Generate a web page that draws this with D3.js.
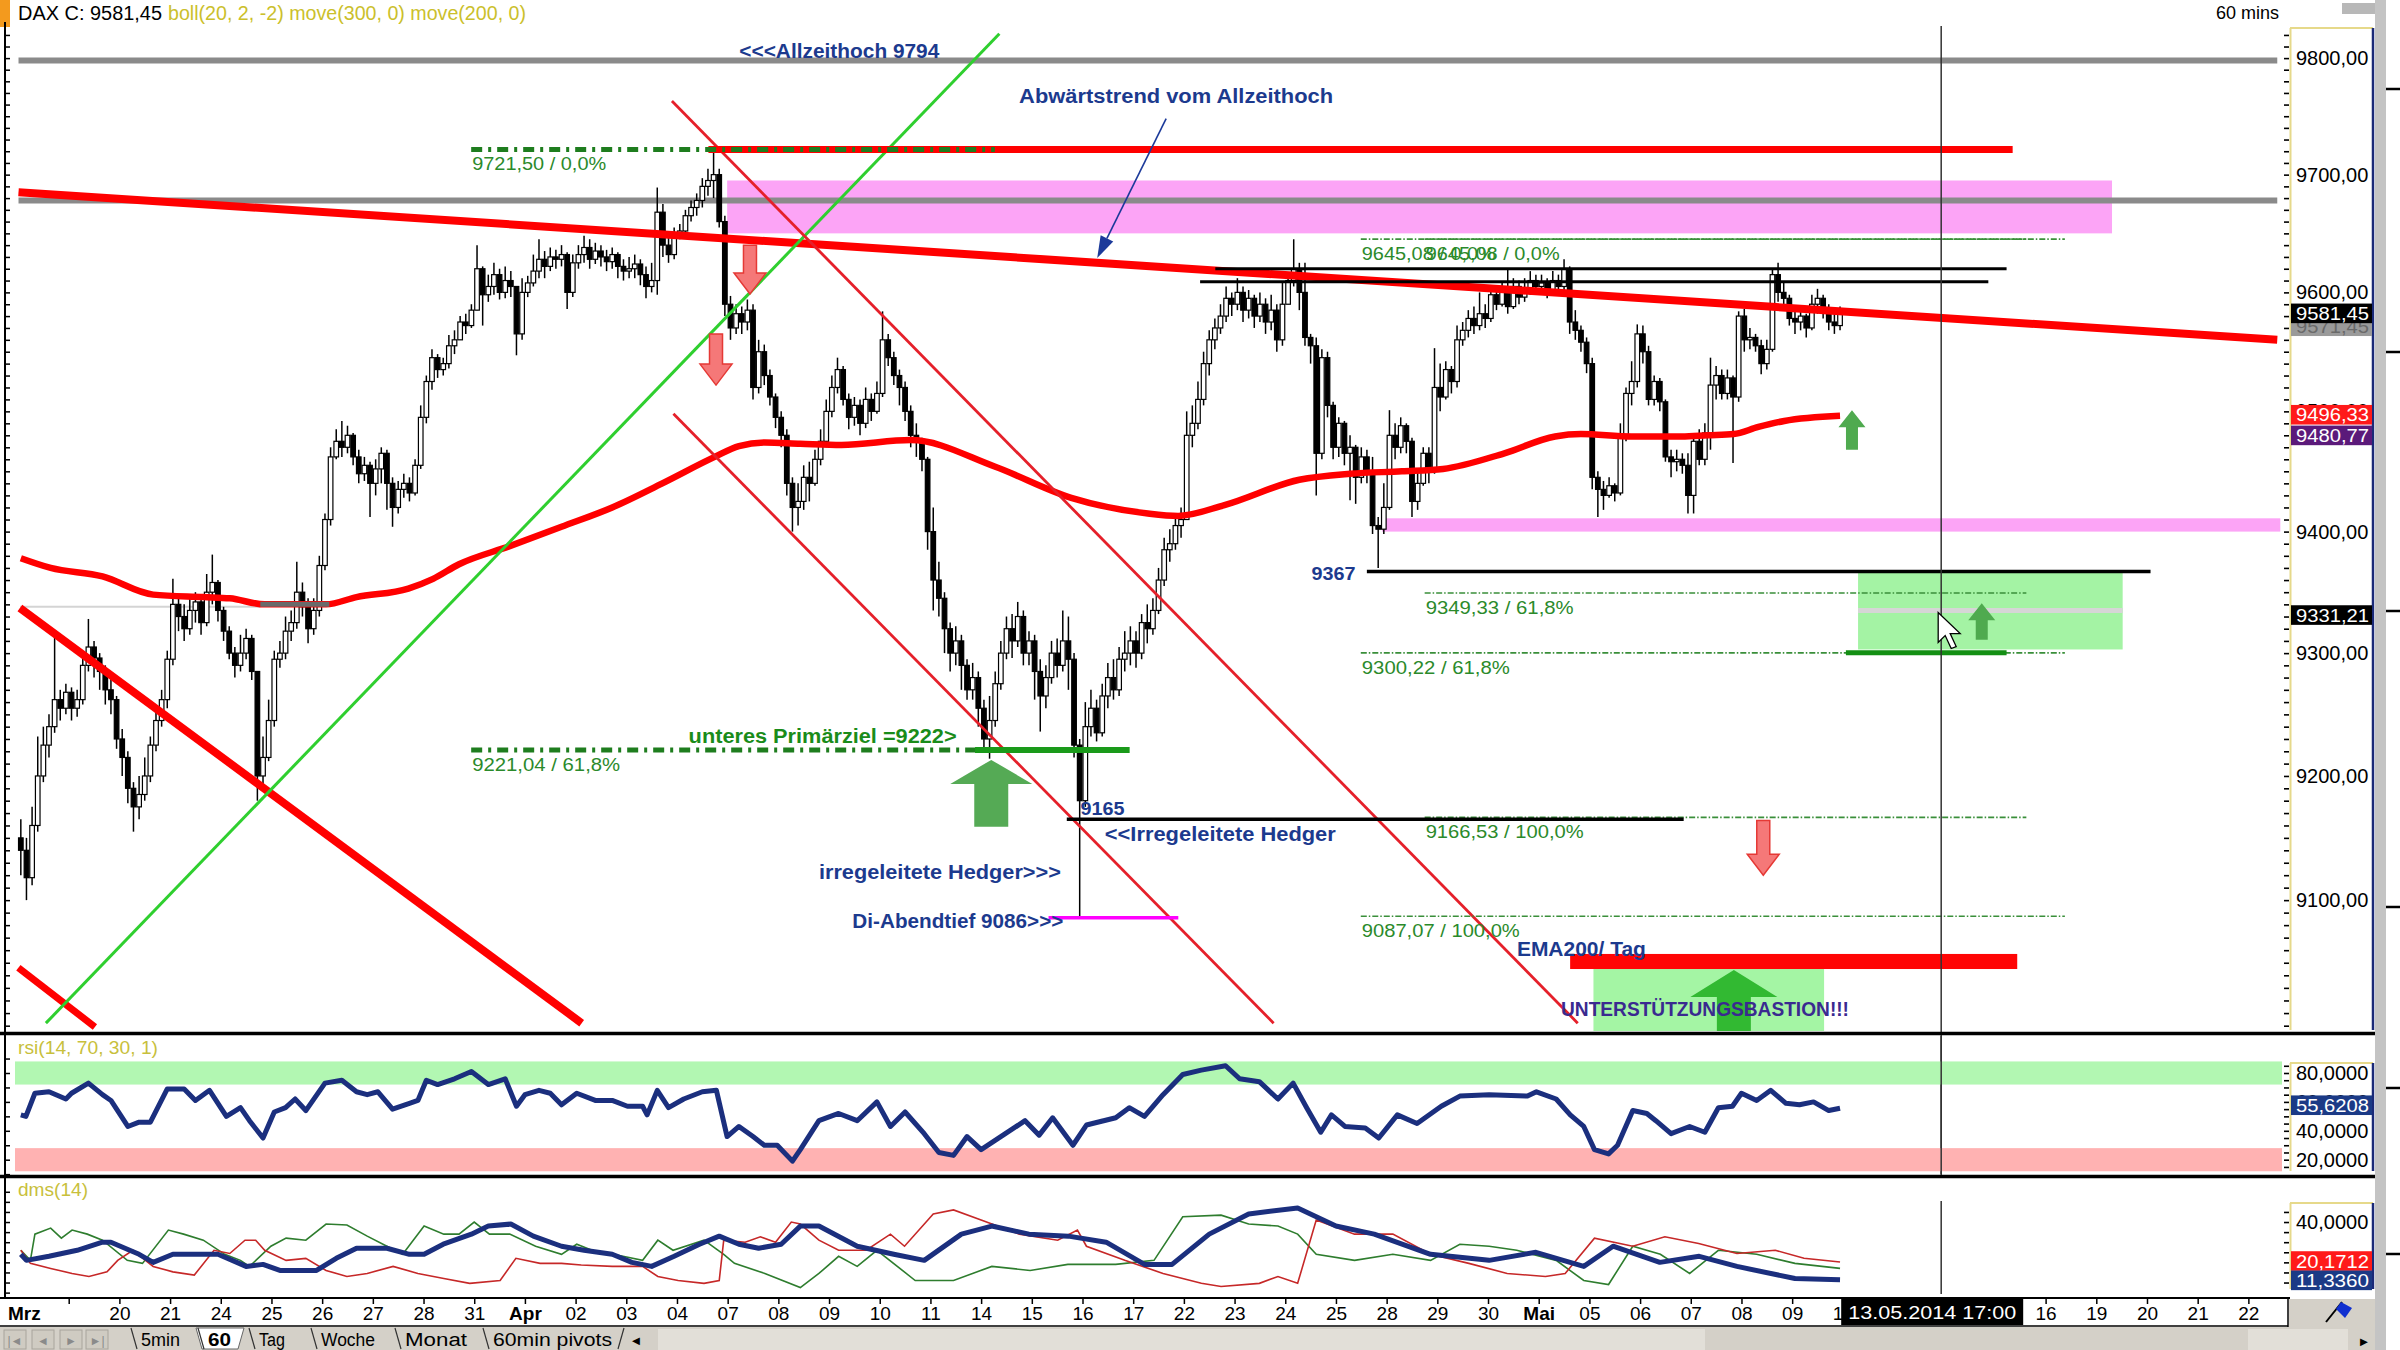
<!DOCTYPE html>
<html>
<head>
<meta charset="utf-8">
<script src="https://cdn.jsdelivr.net/npm/d3@7/dist/d3.min.js"></script>
<style>
html,body{margin:0;padding:0;background:#fff;overflow:hidden;}
svg{display:block;}
</style>
</head>
<body>
<svg id="chart" width="2400" height="1350"></svg>
<script>
// ---------------- DATA ----------------
const xLabels = ["Mrz","19","20","21","24","25","26","27","28","31","Apr","02","03","04","07","08","09","10","11","14","15","16","17","22","23","24","25","28","29","30","Mai","05","06","07","08","09","12","13","14","15","16","19","20","21","22"];
const firstOpen = 9150;
const closes = [
9140,9118,9160,9200,9225,9240,9262,9255,9268,
9255,9262,9290,9305,9296,9285,9270,9262,9230,
9215,9190,9175,9185,9200,9225,9245,9262,9295,
9340,9330,9320,9335,9342,9325,9350,9358,9335,
9318,9300,9290,9300,9312,9285,9200,9215,9245,
9295,9300,9318,9325,9350,9338,9320,9335,9372,
9410,9462,9475,9470,9480,9462,9448,9455,9440,
9452,9465,9440,9420,9435,9440,9432,9455,9495,
9525,9545,9535,9540,9555,9560,9575,9572,9585,
9620,9598,9605,9615,9600,9610,9605,9565,9600,
9608,9618,9628,9622,9630,9628,9632,9600,9625,
9632,9638,9628,9635,9630,9626,9632,9622,9618,
9620,9624,9615,9605,9610,9668,9640,9632,9650,
9652,9665,9672,9678,9690,9695,9700,9660,9590,
9570,9582,9575,9585,9520,9550,9530,9512,9495,
9480,9440,9420,9425,9445,9440,9460,9475,9500,
9520,9535,9510,9495,9505,9490,9510,9500,9515,
9560,9545,9530,9520,9500,9480,9475,9460,9400,
9360,9345,9320,9300,9310,9290,9270,9280,9255,
9230,9245,9275,9300,9320,9310,9330,9300,9310,
9285,9265,9280,9300,9290,9310,9295,9225,9180,
9240,9255,9235,9265,9280,9270,9295,9300,9310,
9300,9325,9320,9335,9360,9385,9390,9405,9410,
9480,9490,9510,9540,9560,9570,9580,9595,9590,
9600,9585,9595,9580,9590,9575,9585,9560,9590,
9610,9620,9600,9562,9555,9465,9545,9505,9470,
9490,9465,9470,9445,9462,9450,9405,9402,9420,
9480,9470,9488,9475,9425,9440,9465,9450,9520,
9512,9535,9525,9560,9568,9578,9572,9582,9578,
9598,9590,9600,9588,9605,9596,9602,9610,9605,
9608,9602,9610,9605,9620,9575,9568,9558,9540,
9445,9435,9430,9438,9432,9480,9515,9525,9565,
9550,9510,9525,9508,9462,9458,9460,9455,9430,
9475,9460,9482,9522,9530,9515,9528,9512,9580,
9560,9562,9555,9540,9552,9615,9600,9595,9578,
9575,9580,9570,9590,9595,9585,9575,9572,9581.45];
const highs = [
9165,9150,9175,9232,9240,9250,9317,9270,9275,
9272,9270,9300,9328,9310,9300,9290,9285,9265,
9238,9220,9195,9200,9215,9232,9255,9270,9302,
9361,9348,9340,9348,9350,9345,9365,9381,9360,
9338,9322,9305,9315,9320,9315,9285,9232,9262,
9302,9310,9330,9335,9375,9358,9345,9345,9380,
9415,9470,9485,9492,9488,9482,9468,9462,9458,
9460,9470,9468,9445,9442,9448,9445,9460,9505,
9530,9552,9548,9545,9564,9568,9580,9582,9590,
9640,9622,9615,9625,9620,9622,9618,9605,9612,
9614,9632,9645,9635,9638,9636,9640,9634,9632,
9640,9648,9645,9642,9640,9636,9638,9634,9628,
9630,9632,9628,9622,9625,9689,9675,9650,9655,
9658,9670,9678,9684,9697,9705,9722,9705,9665,
9597,9590,9588,9594,9590,9560,9556,9535,9515,
9500,9485,9445,9440,9455,9458,9468,9485,9510,
9530,9545,9538,9515,9512,9510,9520,9515,9525,
9584,9565,9550,9535,9525,9505,9490,9478,9462,
9420,9375,9350,9325,9322,9315,9295,9292,9285,
9262,9265,9285,9310,9330,9332,9342,9335,9318,
9315,9295,9290,9310,9312,9335,9330,9300,9230,
9260,9270,9262,9275,9292,9295,9305,9318,9322,
9318,9332,9340,9345,9370,9395,9402,9415,9420,
9500,9505,9525,9550,9568,9578,9590,9605,9600,
9612,9605,9602,9598,9600,9595,9598,9590,9608,
9615,9645,9625,9625,9565,9562,9552,9550,9508,
9495,9492,9480,9472,9470,9468,9462,9412,9440,
9501,9490,9495,9490,9478,9452,9470,9470,9553,
9540,9542,9538,9572,9575,9585,9588,9600,9590,
9605,9602,9608,9620,9612,9610,9612,9618,9615,
9615,9612,9618,9615,9628,9622,9585,9572,9562,
9545,9450,9442,9445,9440,9490,9520,9542,9573,
9572,9555,9530,9528,9510,9468,9468,9465,9465,
9480,9485,9490,9545,9538,9535,9535,9530,9584,
9586,9570,9565,9560,9560,9620,9625,9608,9598,
9585,9588,9582,9598,9603,9598,9590,9585,9588];
const lows = [
9120,9100,9112,9155,9195,9215,9235,9245,9250,
9245,9248,9258,9285,9280,9270,9258,9250,9222,
9200,9178,9155,9165,9180,9195,9220,9240,9255,
9290,9318,9310,9315,9325,9315,9322,9340,9326,
9310,9295,9280,9285,9295,9278,9180,9190,9212,
9240,9288,9295,9310,9320,9330,9308,9315,9330,
9368,9405,9460,9462,9465,9455,9440,9442,9412,
9430,9440,9418,9404,9415,9428,9425,9430,9452,
9490,9518,9528,9530,9536,9548,9560,9565,9570,
9585,9572,9592,9598,9594,9595,9596,9547,9560,
9596,9605,9612,9612,9618,9620,9622,9586,9596,
9620,9625,9620,9624,9622,9618,9620,9612,9610,
9612,9612,9606,9595,9600,9598,9630,9625,9628,
9645,9650,9660,9665,9672,9682,9680,9655,9580,
9560,9565,9565,9568,9510,9515,9522,9505,9486,
9470,9430,9400,9405,9418,9425,9438,9455,9470,
9495,9515,9505,9485,9488,9480,9486,9492,9498,
9512,9538,9522,9505,9492,9470,9462,9450,9385,
9335,9330,9300,9285,9290,9270,9262,9262,9240,
9220,9214,9240,9270,9295,9296,9305,9290,9290,
9262,9236,9255,9275,9280,9285,9270,9215,9165,
9175,9232,9228,9232,9255,9262,9265,9285,9290,
9288,9295,9308,9315,9332,9355,9375,9385,9395,
9455,9470,9485,9505,9530,9552,9565,9575,9580,
9585,9575,9578,9570,9575,9565,9568,9550,9555,
9590,9605,9585,9555,9540,9430,9460,9495,9460,
9462,9455,9426,9423,9440,9440,9398,9370,9398,
9418,9460,9465,9465,9412,9418,9438,9440,9448,
9500,9510,9515,9520,9555,9562,9565,9568,9570,
9575,9585,9588,9582,9586,9590,9592,9598,9598,
9598,9595,9600,9598,9600,9565,9560,9550,9532,
9435,9412,9418,9428,9425,9430,9475,9505,9520,
9540,9505,9505,9500,9458,9445,9450,9448,9415,
9415,9455,9455,9468,9510,9510,9510,9457,9508,
9550,9552,9550,9531,9535,9550,9592,9588,9572,
9565,9568,9562,9568,9582,9578,9568,9565,9568];
// moving average 200 (bar index, value)
const ma200 = [[0,9378],[5.3,9370],[14.5,9363],[23.5,9348],[32.4,9346],[37.1,9345],[43.3,9340],[54.2,9340],[59.6,9346],[68.8,9353],[73.2,9361],[77.8,9373],[86.8,9388],[96,9404],[105,9420],[113.9,9440],[123.2,9462],[127.5,9471],[132.1,9474],[138.4,9473],[145.7,9472],[158,9476],[172.9,9454],[186.5,9428],[200.1,9415],[205.5,9413],[213.7,9422],[227,9443],[236,9448],[245.2,9450],[252.5,9452],[263.4,9465],[272.4,9479],[277,9481],[286,9479],[294.9,9479],[299.5,9480],[304.1,9481],[308.5,9487],[313.1,9492],[323,9496.33]];
const rsi14 = [[0,51],[0.9,50],[2.5,66],[5,67],[8,62],[9,66],[12,73],[14.5,65],[16,61],[19,43],[21,46],[23,46],[26,69],[29,69],[31,61],[33.5,68],[36.5,50],[39,56],[40.6,47],[43,35],[45,53],[47,56],[48.7,62],[50.6,54],[54,73],[57,75],[59.6,67],[61.5,65],[63.4,67],[66,55],[69,59],[70.5,61],[72,75],[74,72],[77,76],[80,81],[83,72],[86,76],[88,57],[89.5,65],[92,68],[94,66],[96,58],[98.7,66],[102,61],[105,61],[107.7,57],[110.4,57],[111.2,51],[113,68],[115,56],[117.7,62],[121,67],[123.5,68],[125.4,36],[127.5,43],[130,36],[132,30],[134.3,30],[137,19],[138.4,27],[141.7,47],[145.2,52],[148.5,47],[152,60],[154.4,43],[157,53],[160.4,38],[163,25],[165.6,23],[168,36],[170.5,27],[174.8,38],[178.3,47],[180.8,37],[183.2,49],[186.8,30],[189.2,44],[194.4,49],[196.8,56],[199.5,50],[202.8,65],[206.3,79],[209.6,82],[213.9,85],[216.4,76],[219.9,74],[223.2,62],[225.9,73],[228.3,56],[230.8,39],[232.7,51],[235.1,43],[238.7,42],[241.1,35],[244.4,51],[247.9,45],[252.2,57],[255.5,64],[260.7,65],[267.5,64],[269.1,67],[272.6,62],[275.1,51],[277.5,43],[279.4,27],[281.9,24],[283.5,30],[286.2,54],[288.7,52],[290.3,47],[293,38],[296.3,43],[299,39],[301.4,56],[303.9,57],[305.5,66],[308.2,61],[310.7,68],[313.4,59],[315.8,58],[318.3,60],[321,54],[323,55.62]];
const adx14 = [[0,24],[1,21],[5,23],[10,26],[14.5,30],[16,30],[21,24],[23.5,20],[27,24],[30,24],[35,24],[40,18],[43,19],[46,16],[52.5,16],[56,22],[59.6,27],[65,27],[69,24],[71.6,24],[75,29],[80,34],[83,38],[87,39],[91,33],[96,28],[100,26],[105,24],[108.5,20],[112,18],[116,23],[120.5,29],[124,33],[127.5,29],[131,27],[135,29],[138.4,38],[141.7,38],[148.5,28],[155,24],[160.4,21],[167,34],[172.4,38],[179,34],[186,33],[192.7,30],[199.5,19],[204.4,19],[211,34],[218,44],[226.7,47],[233.5,38],[240.3,34],[250.3,24],[260.7,21],[269,25],[277.5,18],[282.7,28],[291,20],[298,23],[304.7,18],[315,12],[323,11.34]];
const diPlus = [[0,26],[1.7,21],[2.5,34],[5.3,37],[7.2,32],[9.1,36],[11.8,34],[14.5,31],[18.9,21],[21.6,19.5],[26.2,36],[28.9,34],[32.4,31],[36.2,24],[39,21],[40.6,18],[44.4,28],[47.1,32],[50.6,31],[54.2,39],[57.9,38.5],[61.5,33],[65,28],[67.8,24],[71.6,38],[75.1,34],[77.8,34],[80.5,40],[83.2,34],[86.8,34],[91.4,28],[96,24],[98.7,29],[101.4,26],[106.9,23],[110.4,21],[113.1,31],[115.8,26],[121.3,31],[124.8,24],[126.7,19.5],[132.1,14.5],[138.4,7.5],[141.7,14.5],[145.2,23],[148.5,18],[152,26],[158.8,11],[165.6,11],[172.4,18],[179.2,16],[185.9,19],[194.4,19],[201.2,21],[206.3,42.6],[213.1,43.4],[218,39],[223.2,38],[226.7,34],[230,24],[236.8,21],[243.6,24],[250.3,21],[255.5,29],[260.7,28],[265.6,26],[272.6,21],[277.5,11],[281.9,9],[286.2,28],[291.1,24],[296.3,14.5],[301.4,26],[308.2,24],[315,19.5],[323,17]];
const diMinus = [[0,26],[1.7,19.5],[5.3,17],[9.1,14.5],[12.1,13],[15.3,15.3],[17.2,21],[19.9,26],[23.5,18],[27,15.3],[30.8,13.7],[34.3,26],[37.1,24.4],[39.8,31],[41.7,31],[43.3,26],[47.1,21],[50.6,22],[54.2,16],[57.9,13],[61.5,14.5],[66.1,18],[70.5,14.5],[75.1,12],[79.7,9.6],[85.1,11],[87.9,22],[92.2,19.5],[96,19.5],[99.5,18.7],[105,18],[110.4,18],[113.1,13],[116.7,11],[121.3,9.6],[124,11],[124.8,31],[128.6,30],[131.3,32.7],[134,30],[136.8,40],[138.4,39],[141.7,31],[145.2,26],[150.1,26],[154.4,34],[156.9,28],[162,44],[165.6,46],[170.5,41],[177.3,34],[184.1,31],[187.6,36],[189.2,28],[196,21],[202.8,14.5],[209.6,9.6],[213.1,8],[219.9,9.6],[223.2,13],[226.7,9.6],[230,41],[236.8,34],[243.6,34],[250.3,24],[257.1,19.5],[263.9,14.5],[270.7,13],[274.2,14.5],[279.4,32],[286.2,28],[291.9,32.7],[297.9,29.4],[304.7,24.4],[311.5,26],[316.6,22],[323,20.17]];
const priceTicks = [9100,9200,9300,9400,9500,9600,9700,9800];
const rsiTicks = [20,40,60,80];
const dmsTicks = [40];
// horizontal levels / zones  [fromDay, toDay, price]
const allTimeHigh = [-0.99, 43.57, 9798];
const grayLevel = [-0.99, 43.57, 9678];
const pinkZoneHigh = [12.99, 40.31, 9650, 9695];
const pinkZone9400 = [25.91, 43.63, 9400, 9411];
const greenZone = [35.30, 40.52, 9303, 9367];
const bastionZone = [30.08, 34.63, 8990, 9045];
const emaDay = [29.62, 38.44, 9045, 9057];
const redTop = [12.62, 38.35, 9721.5];
const resistance = [[22.62, 38.23, 9620], [22.32, 37.87, 9609]];
const support9367 = [25.61, 41.07, 9367];
const hedger9165 = [19.69, 31.86, 9165];
const tuesdayLow = [19.33, 21.89, 9086];
const darkGreen9300 = [35.06, 38.23, 9300.22];
// fibonacci sets: from, to, [price, label]
const fibSets = [
  {from: 7.94, to: 18.27, thick: true, levels: [[9721.50, "0,0%"], [9221.04, "61,8%"]]},
  {from: 25.49, to: 39.38, thick: false, levels: [[9645.08, "0,0%"], [9300.22, "61,8%"], [9087.07, "100,0%"]]},
  {from: 26.75, to: 38.62, thick: false, levels: [[9645.08, "0,0%"], [9349.33, "61,8%"], [9166.53, "100,0%"]]}
];
// trend lines [d0, v0, d1, v1]
const downTrend = [-0.99, 9685, 43.57, 9560];
const lowerLeftTrend = [-0.963, 9337, 10.12, 9002];
const shortRed = [-0.993, 9046, 0.517, 8999];
const greenUpTrend = [-0.45, 9002, 18.36, 9821];
const channelUpper = [11.90, 9763, 29.77, 9002];
const channelLower = [11.93, 9498, 23.77, 9002];
const pointer = [21.65, 9748, 20.29, 9629];
// arrows [day, tipPrice, tailPrice]
const redArrows = [[13.44, 9598.6, 9640], [12.77, 9522, 9565], [33.43, 9120, 9164]];
const smallGreenArrows = [[35.18, 9501, 9468], [37.74, 9341, 9311]];
const bigGreenArrow = [18.20, 9213, 9159];
const bastionArrow = [32.85, 9045, 8990];
const cursorDay = 36.94;
const cursorPrice = 9330;
const lastClose = 9581.45, lastBoll = 9571.45, lastMa200 = 9496.33, lastMa300 = 9480.77, markerLevel = 9331.21;
const lastRsi = 55.6208, lastDiMinus = 20.1712, lastAdx = 11.3360;

// ---------------- SCALES ----------------
const NARROW = '"Liberation Sans Narrow","Arial Narrow","Liberation Sans",Arial,sans-serif';
const SANS = '"Liberation Sans",Arial,sans-serif';
const svg = d3.select('#chart');
svg.append('rect').attr('width', 2400).attr('height', 1350).attr('fill', '#fff');

const x = d3.scaleLinear().domain([0, 43]).range([68.7, 68.7 + 43 * 50.69]);
const bx = b => x(-1 + (b + 0.5) / 9);
const y = d3.scaleLog().domain([8995, 9826]).range([1032, 28]);
const yR = d3.scaleLinear().domain([0, 100]).range([1188.6, 1044.1]);
const yD = d3.scaleLinear().domain([0, 60]).range([1302.7, 1181.7]);
const PL = 8, PR = 2282;

const defs = svg.append('defs');
function clip(id, y0, y1) { defs.append('clipPath').attr('id', id).append('rect').attr('x', PL).attr('y', y0).attr('width', PR - PL).attr('height', y1 - y0); }
clip('cm', 24, 1031); clip('cr', 1036, 1174); clip('cd', 1178, 1297);

function hl(g, d0, d1, v, col, w, dash, sc) {
  const s = sc || y;
  g.append('line').attr('x1', x(d0)).attr('x2', x(d1)).attr('y1', s(v)).attr('y2', s(v))
    .attr('stroke', col).attr('stroke-width', w).attr('stroke-dasharray', dash || null);
}
function seg(g, a, col, w) {
  g.append('line').attr('x1', x(a[0])).attr('y1', y(a[1])).attr('x2', x(a[2])).attr('y2', y(a[3]))
    .attr('stroke', col).attr('stroke-width', w);
}
function zone(g, z, fill) {
  g.append('rect').attr('x', x(z[0])).attr('width', x(z[1]) - x(z[0])).attr('y', y(z[3])).attr('height', y(z[2]) - y(z[3])).attr('fill', fill);
}
function label(g, px, py, str, o) {
  const t = g.append('text').attr('x', px).attr('y', py).text(str)
    .attr('font-family', o.family || NARROW).attr('font-size', o.size || 20)
    .attr('font-weight', o.weight || 'normal').attr('fill', o.fill || '#000')
    .attr('text-anchor', o.anchor || 'start');
  if (o.len) t.attr('textLength', o.len).attr('lengthAdjust', 'spacingAndGlyphs');
  return t;
}
function arrow(g, cx, yTip, yTail, headW, headH, shaftW, fill, stroke) {
  const dir = yTail > yTip ? 1 : -1;
  const yh = yTip + dir * headH;
  const p = [[cx, yTip], [cx + headW / 2, yh], [cx + shaftW / 2, yh], [cx + shaftW / 2, yTail], [cx - shaftW / 2, yTail], [cx - shaftW / 2, yh], [cx - headW / 2, yh]];
  g.append('path').attr('d', 'M' + p.map(q => q.join(',')).join('L') + 'Z').attr('fill', fill)
    .attr('stroke', stroke || 'none').attr('stroke-width', 1.5);
}
const fmt = (v, n) => v.toFixed(n).replace('.', ',');

// ---------------- HEADER ----------------
svg.append('rect').attr('x', 0).attr('y', 0).attr('width', 10).attr('height', 27).attr('fill', '#f39a1e');
label(svg, 18, 20, 'DAX C: ' + fmt(lastClose, 2), {size: 20, len: 144});
label(svg, 168, 20, 'boll(20, 2, -2) move(300, 0) move(200, 0)', {size: 20, fill: '#cbbf2c', len: 358});
label(svg, 2216, 19, '60 mins', {family: SANS, size: 18});
svg.append('rect').attr('x', 2342).attr('y', 3).attr('width', 36).attr('height', 11).attr('fill', '#b8b8b8');

// ---------------- MAIN PANEL ----------------
const gm = svg.append('g').attr('clip-path', 'url(#cm)');
zone(gm, pinkZoneHigh, '#fca4f6');
zone(gm, pinkZone9400, '#fca4f6');
zone(gm, greenZone, '#a4f3a4');
zone(gm, bastionZone, '#a4f5a4');
hl(gm, greenZone[0], greenZone[1], 9335, '#d6d6d6', 5);
hl(gm, allTimeHigh[0], allTimeHigh[1], allTimeHigh[2], '#8a8a8a', 6);
hl(gm, grayLevel[0], grayLevel[1], grayLevel[2], '#8a8a8a', 6);
hl(gm, -0.96, 3.78, 9338, '#d4d4d4', 2);

// candles
const bars = closes.map((c, i) => {
  const o = i ? closes[i - 1] : firstOpen;
  return {i, o, c, h: Math.max(highs[i], o, c), l: Math.min(lows[i], o, c)};
});
const gc = gm.append('g');
gc.selectAll('line').data(bars).join('line')
  .attr('x1', d => bx(d.i)).attr('x2', d => bx(d.i))
  .attr('y1', d => y(d.h)).attr('y2', d => y(d.l))
  .attr('stroke', '#000').attr('stroke-width', 1.5);
gc.selectAll('rect').data(bars).join('rect')
  .attr('x', d => bx(d.i) - 2.3).attr('width', 4.6)
  .attr('y', d => y(Math.max(d.o, d.c)))
  .attr('height', d => Math.max(1.2, Math.abs(y(d.o) - y(d.c))))
  .attr('fill', d => d.c >= d.o ? '#fff' : '#000')
  .attr('stroke', '#000').attr('stroke-width', 1.2);
// thin line from tuesday wick to evening low
const wickBar = 188;
gm.append('line').attr('x1', bx(wickBar)).attr('x2', bx(wickBar)).attr('y1', y(9165)).attr('y2', y(tuesdayLow[2]))
  .attr('stroke', '#000').attr('stroke-width', 1.5);

// moving average
gm.append('path').datum(ma200)
  .attr('d', d3.line().x(d => bx(d[0])).y(d => y(d[1])).curve(d3.curveMonotoneX))
  .attr('fill', 'none').attr('stroke', '#ff0000').attr('stroke-width', 6.5);
hl(gm, 3.78, 5.14, 9340, '#6a6a6a', 5);

// trend lines
seg(gm, downTrend, '#ff0000', 8);
seg(gm, lowerLeftTrend, '#ff0000', 8);
seg(gm, shortRed, '#ff0000', 7);
seg(gm, greenUpTrend, '#2fcf2f', 3);
seg(gm, channelUpper, '#e5202a', 2.8);
seg(gm, channelLower, '#e5202a', 2.8);
hl(gm, redTop[0], redTop[1], redTop[2], '#ff0000', 7);

// fib lines
fibSets.forEach(s => {
  s.levels.forEach(lv => {
    if (s.thick) hl(gm, s.from, s.to, lv[0], '#1e7d1e', 5, '11,6,3,6');
    else hl(gm, s.from, s.to, lv[0], '#3a8f3a', 1.6, '6,2,1.5,2');
  });
});
hl(gm, 17.88, 20.93, 9221.04, '#1a9a1a', 6);

// black / magenta levels
resistance.forEach(r => hl(gm, r[0], r[1], r[2], '#000', 3));
hl(gm, support9367[0], support9367[1], support9367[2], '#000', 3.5);
hl(gm, hedger9165[0], hedger9165[1], hedger9165[2], '#000', 3.5);
hl(gm, tuesdayLow[0], tuesdayLow[1], tuesdayLow[2], '#ff00ff', 3.5);
hl(gm, darkGreen9300[0], darkGreen9300[1], darkGreen9300[2], '#138f13', 5);
gm.append('rect').attr('x', x(emaDay[0])).attr('width', x(emaDay[1]) - x(emaDay[0]))
  .attr('y', y(emaDay[3])).attr('height', y(emaDay[2]) - y(emaDay[3])).attr('fill', '#ff0505');

// arrows
redArrows.forEach(a => arrow(gm, x(a[0]), y(a[1]), y(a[2]), 32, 21, 13, '#f57878', '#e53935'));
smallGreenArrows.forEach(a => arrow(gm, x(a[0]), y(a[1]), y(a[2]), 27, 17, 12, '#4faa4f'));
arrow(gm, x(bigGreenArrow[0]), y(bigGreenArrow[1]), y(bigGreenArrow[2]), 82, 24, 34, '#55aa55');
arrow(gm, x(bastionArrow[0]), y(bastionArrow[1]) + 1, y(bastionArrow[2]), 87, 27, 34, '#32b932');

// pointer arrow
{
  const x0 = x(pointer[0]), y0 = y(pointer[1]), x1 = x(pointer[2]), y1 = y(pointer[3]);
  const ang = Math.atan2(y1 - y0, x1 - x0), L = 22, Wd = 7;
  const bxp = x1 - L * Math.cos(ang), byp = y1 - L * Math.sin(ang);
  gm.append('line').attr('x1', x0).attr('y1', y0).attr('x2', bxp).attr('y2', byp).attr('stroke', '#1c3a9a').attr('stroke-width', 1.6);
  const px = -Math.sin(ang) * Wd, py = Math.cos(ang) * Wd;
  gm.append('path').attr('d', `M${x1},${y1}L${bxp + px},${byp + py}L${bxp - px},${byp - py}Z`).attr('fill', '#1c3a9a');
}

// texts
const NAVY = '#1c3a8e', FIBG = '#2b8a2b';
label(gm, x(13.23), y(allTimeHigh[2]) - 2, '<<<Allzeithoch 9794', {weight: 'bold', fill: NAVY, len: 200});
label(gm, x(18.75), 103, 'Abwärtstrend vom Allzeithoch', {weight: 'bold', fill: NAVY, len: 314});
fibSets.forEach(s => {
  s.levels.forEach(lv => {
    label(gm, x(s.from) + 1, y(lv[0]) + 21, fmt(lv[0], 2) + ' / ' + lv[1], {size: 19, fill: FIBG, len: lv[1] === '100,0%' ? 158 : (lv[1] === '0,0%' ? 134 : 148)});
  });
});
label(gm, x(12.23), y(9221.04) - 7, 'unteres Primärziel =9222>', {weight: 'bold', fill: '#1a8c1a', len: 268});
label(gm, x(19.96), y(9165) - 4, '9165', {weight: 'bold', fill: NAVY, size: 18, len: 44});
label(gm, x(20.44), y(9165) + 22, '<<Irregeleitete Hedger', {weight: 'bold', fill: NAVY, len: 231});
label(gm, x(14.80), y(9165) + 60, 'irregeleitete Hedger>>>', {weight: 'bold', fill: NAVY, len: 242});
label(gm, x(15.46), y(tuesdayLow[2]) + 10, 'Di-Abendtief 9086>>>', {weight: 'bold', fill: NAVY, len: 211});
label(gm, x(24.52), y(support9367[2]) + 8, '9367', {weight: 'bold', fill: NAVY, size: 19, len: 44});
label(gm, x(28.57), y(emaDay[3]) + 2, 'EMA200/ Tag', {weight: 'bold', fill: NAVY, len: 129});
label(gm, x(29.44), 1016, 'UNTERSTÜTZUNGSBASTION!!!', {weight: 'bold', fill: '#3a2a90', len: 288});

// cursor line
const cx = x(cursorDay);
svg.append('line').attr('x1', cx).attr('x2', cx).attr('y1', 26).attr('y2', 1175).attr('stroke', '#333').attr('stroke-width', 1.5);
// mouse pointer
{
  const mx = cx - 3, my = y(cursorPrice) - 4;
  svg.append('path').attr('d', `M${mx},${my} l0,30 l7,-7 l6,13 l5,-2 l-6,-13 l10,0 Z`)
    .attr('fill', '#fff').attr('stroke', '#000').attr('stroke-width', 1.3);
}

// ---------------- RSI PANEL ----------------
const gr = svg.append('g').attr('clip-path', 'url(#cr)');
gr.append('rect').attr('x', 15).attr('width', PR - 15).attr('y', yR(88)).attr('height', yR(72) - yR(88)).attr('fill', '#b2f7b2');
gr.append('rect').attr('x', 15).attr('width', PR - 15).attr('y', yR(28)).attr('height', yR(12) - yR(28)).attr('fill', '#ffb2b2');
gr.append('line').attr('x1', cx).attr('x2', cx).attr('y1', 1036).attr('y2', 1175).attr('stroke', '#333').attr('stroke-width', 1.5);
gr.append('path').datum(rsi14).attr('d', d3.line().x(d => bx(d[0])).y(d => yR(d[1])))
  .attr('fill', 'none').attr('stroke', '#1b2f7e').attr('stroke-width', 5).attr('stroke-linejoin', 'round');
label(svg, 18, 1054, 'rsi(14, 70, 30, 1)', {size: 19, fill: '#c8bf3c', len: 140});

// ---------------- DMS PANEL ----------------
const gd = svg.append('g').attr('clip-path', 'url(#cd)');
gd.append('line').attr('x1', cx).attr('x2', cx).attr('y1', 1201).attr('y2', 1294).attr('stroke', '#333').attr('stroke-width', 1.5);
const lD = d3.line().x(d => bx(d[0])).y(d => yD(d[1]));
gd.append('path').datum(diPlus).attr('d', lD).attr('fill', 'none').attr('stroke', '#2e7d2e').attr('stroke-width', 1.6);
gd.append('path').datum(diMinus).attr('d', lD).attr('fill', 'none').attr('stroke', '#c62828').attr('stroke-width', 1.6);
gd.append('path').datum(adx14).attr('d', lD).attr('fill', 'none').attr('stroke', '#1b2f7e').attr('stroke-width', 5).attr('stroke-linejoin', 'round');
label(svg, 18, 1196, 'dms(14)', {size: 19, fill: '#c8bf3c', len: 70});

// ---------------- FRAMES ----------------
svg.append('line').attr('x1', 0).attr('x2', 2375).attr('y1', 1033.5).attr('y2', 1033.5).attr('stroke', '#000').attr('stroke-width', 3.5);
svg.append('line').attr('x1', 0).attr('x2', 2375).attr('y1', 1176.5).attr('y2', 1176.5).attr('stroke', '#000').attr('stroke-width', 3.5);
svg.append('line').attr('x1', 0).attr('x2', 2290).attr('y1', 1298).attr('y2', 1298).attr('stroke', '#000').attr('stroke-width', 2);
svg.append('line').attr('x1', 5).attr('x2', 5).attr('y1', 22).attr('y2', 1298).attr('stroke', '#000').attr('stroke-width', 2);
function leftTicks(scale, vals) {
  svg.append('g').attr('transform', 'translate(5,0)')
    .call(d3.axisRight(scale).tickValues(vals).tickSize(5).tickFormat(''))
    .call(g => { g.select('.domain').remove(); g.selectAll('line').attr('stroke', '#000').attr('stroke-width', 1.5); });
}
leftTicks(y, d3.range(9000, 9826, 10));
leftTicks(yR, d3.range(10, 100, 10));
leftTicks(yD, d3.range(5, 60, 5));

// ---------------- RIGHT AXES ----------------
function axisBox(y0, y1) {
  svg.append('rect').attr('x', 2290).attr('y', y0).attr('width', 83).attr('height', y1 - y0).attr('fill', '#fff');
  svg.append('line').attr('x1', 2290.5).attr('x2', 2290.5).attr('y1', y0).attr('y2', y1).attr('stroke', '#e6d98a').attr('stroke-width', 2);
  svg.append('line').attr('x1', 2290).attr('x2', 2373).attr('y1', y0).attr('y2', y0).attr('stroke', '#e6d98a').attr('stroke-width', 2);
  svg.append('line').attr('x1', 2373).attr('x2', 2373).attr('y1', y0).attr('y2', y1).attr('stroke', '#1b2a78').attr('stroke-width', 2.5);
}
function rightAxis(scale, minor, major, digits) {
  svg.append('g').attr('transform', 'translate(2289,0)')
    .call(d3.axisLeft(scale).tickValues(minor).tickSize(5).tickFormat(''))
    .call(g => { g.select('.domain').remove(); g.selectAll('line').attr('stroke', '#000').attr('stroke-width', 1.6); });
  svg.append('g').attr('transform', 'translate(2289,0)')
    .call(d3.axisRight(scale).tickValues(major).tickSize(0).tickPadding(7).tickFormat(v => fmt(v, digits)))
    .call(g => { g.select('.domain').remove(); g.selectAll('text').attr('font-family', SANS).attr('font-size', 20).attr('fill', '#000'); });
}
function valBox(yc, txt, bg, fg) {
  svg.append('rect').attr('x', 2291).attr('y', yc - 9.8).attr('width', 81).attr('height', 19.6).attr('fill', bg);
  label(svg, 2296, yc + 6.5, txt, {family: SANS, size: 18, fill: fg, len: 73});
}
axisBox(28, 1030);
rightAxis(y, d3.range(9000, 9826, 10), priceTicks, 2);
valBox(y(lastBoll), fmt(lastBoll, 2), '#9a9a9a', '#6a6a6a');
valBox(y(lastClose) - 1, fmt(lastClose, 2), '#000', '#fff');
valBox(y(lastMa200) - 1, fmt(lastMa200, 2), '#ff1a1a', '#fff');
valBox(y(lastMa300) + 1, fmt(lastMa300, 2), '#5b1a7a', '#fff');
valBox(y(markerLevel), fmt(markerLevel, 2), '#000', '#fff');

axisBox(1063, 1171);
rightAxis(yR, d3.range(15, 90, 5), rsiTicks, 4);
valBox(yR(lastRsi) - 3, fmt(lastRsi, 4), '#1b3a86', '#fff');

axisBox(1203, 1289);
rightAxis(yD, d3.range(10, 46, 5), dmsTicks, 4);
valBox(yD(lastDiMinus) - 1, fmt(lastDiMinus, 4), '#ff1a1a', '#fff');
valBox(yD(lastAdx) + 0.5, fmt(lastAdx, 4), '#1b3a86', '#fff');

// right window strip
svg.append('rect').attr('x', 2375).attr('y', 0).attr('width', 25).attr('height', 1350).attr('fill', '#fff');
svg.append('rect').attr('x', 2375).attr('y', 0).attr('width', 11).attr('height', 1350).attr('fill', '#c4c4c4');
[89, 352, 611, 907, 1088, 1254].forEach(v => svg.append('line').attr('x1', 2386).attr('x2', 2400).attr('y1', v).attr('y2', v).attr('stroke', '#000').attr('stroke-width', 2.5));

// ---------------- X AXIS ----------------
svg.append('rect').attr('x', 0).attr('y', 1299).attr('width', 2288).attr('height', 27).attr('fill', '#fff');
svg.append('line').attr('x1', 0).attr('x2', 2288).attr('y1', 1326).attr('y2', 1326).attr('stroke', '#000').attr('stroke-width', 1.5);
svg.append('line').attr('x1', 2288).attr('x2', 2288).attr('y1', 1298).attr('y2', 1327).attr('stroke', '#000').attr('stroke-width', 1.5);
svg.append('rect').attr('x', 2289).attr('y', 1299).attr('width', 86).attr('height', 28).attr('fill', '#d4d0c8');
const days = d3.range(0, 44);
const boxL = x(cursorDay) - 100, boxR = boxL + 182;
label(svg, 8, 1320, xLabels[0], {weight: 'bold', size: 19});
const mrzRight = 8 + 38;
const hiddenUnderBox = d => x(d) - 9 > boxL && x(d) + 9 < boxR;
const gx = svg.append('g').attr('transform', 'translate(0,1298)')
  .call(d3.axisBottom(x).tickValues(days).tickSize(6).tickPadding(3)
    .tickFormat(d => ((x(d) - 10 < mrzRight + 18) || hiddenUnderBox(d)) ? '' : xLabels[d + 1]));
gx.select('.domain').remove();
gx.selectAll('line').attr('stroke', '#000').attr('stroke-width', 1.5);
gx.selectAll('text').attr('font-family', NARROW).attr('font-size', 19).attr('fill', '#000')
  .attr('font-weight', d => ['Apr', 'Mai'].includes(xLabels[d + 1]) ? 'bold' : 'normal');
// date box
svg.append('rect').attr('x', boxL).attr('y', 1299).attr('width', 182).attr('height', 26).attr('fill', '#000');
label(svg, boxL + 91, 1319, '13.05.2014 17:00', {fill: '#fff', size: 19, anchor: 'middle', len: 168});
// flag icon
svg.append('line').attr('x1', 2326).attr('y1', 1322).attr('x2', 2342).attr('y2', 1302).attr('stroke', '#000').attr('stroke-width', 2);
svg.append('path').attr('d', 'M2336,1309 L2341,1302 L2352,1308 L2345,1318 Z').attr('fill', '#1030d0');

// ---------------- TAB BAR ----------------
svg.append('rect').attr('x', 0).attr('y', 1327).attr('width', 2375).attr('height', 23).attr('fill', '#d4d0c8');
svg.append('rect').attr('x', 658).attr('y', 1329).attr('width', 1047).attr('height', 21).attr('fill', '#e2dfd8');
svg.append('rect').attr('x', 2248).attr('y', 1329).attr('width', 100).attr('height', 21).attr('fill', '#e2dfd8');
[[14, '|◄'], [42, '◄'], [70, '►'], [96, '►|']].forEach(t => {
  svg.append('rect').attr('x', t[0] - 10).attr('y', 1330).attr('width', 22).attr('height', 19).attr('fill', '#cfcbc2').attr('stroke', '#a8a49c');
  label(svg, t[0] + 1, 1345, t[1], {family: SANS, size: 12, fill: '#8a8a8a', anchor: 'middle'});
});
const tabs = [['5min', 141, 39], ['60', 208, 23], ['Tag', 259, 26], ['Woche', 321, 54], ['Monat', 405, 62], ['60min pivots', 493, 119]];
svg.append('path').attr('d', 'M196,1328 L202,1349 L238,1349 L244,1328 Z').attr('fill', '#fff').attr('stroke', '#666');
tabs.forEach(t => {
  label(svg, t[1], 1346, t[0], {size: 18, weight: t[0] === '60' ? 'bold' : 'normal', len: t[2]});
  svg.append('line').attr('x1', t[1] - 10).attr('y1', 1328).attr('x2', t[1] - 4).attr('y2', 1349).attr('stroke', '#333').attr('stroke-width', 1.2);
});
svg.append('line').attr('x1', 618).attr('y1', 1349).attr('x2', 624).attr('y2', 1328).attr('stroke', '#333').attr('stroke-width', 1.2);
label(svg, 636, 1345, '◄', {family: SANS, size: 13, fill: '#000', anchor: 'middle'});
label(svg, 2364, 1346, '►', {family: SANS, size: 13, fill: '#000', anchor: 'middle'});
</script>
</body>
</html>
